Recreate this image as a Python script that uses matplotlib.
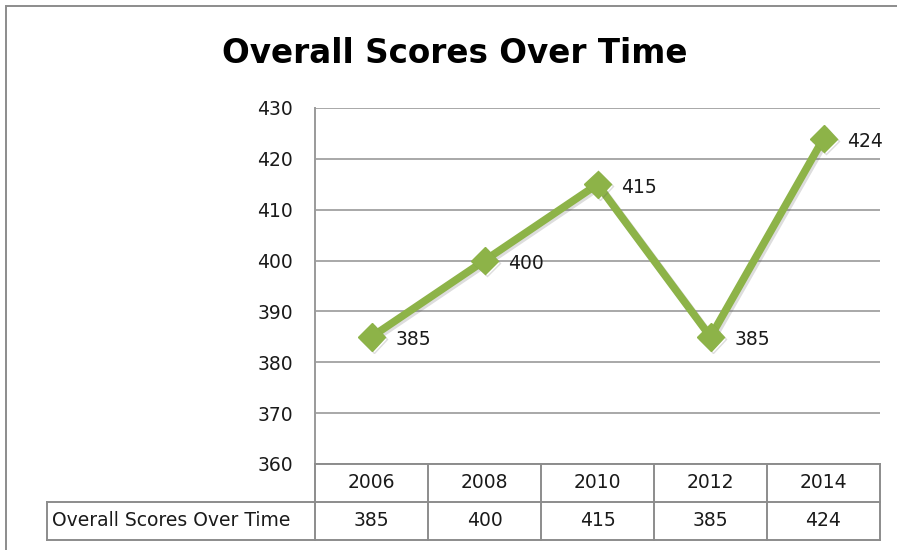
import numpy as np
import matplotlib.pyplot as plt
import matplotlib.patheffects as pe
from matplotlib.patches import Rectangle

plt.rcParams['font.family'] = ['DejaVu Sans']

# data
years = ['2006', '2008', '2010', '2012', '2014']
scores = [385, 400, 415, 385, 424]
series_name = 'Overall Scores Over Time'
y_ticks = [360, 370, 380, 390, 400, 410, 420, 430]

W, H = 897, 550
fig = plt.figure(figsize=(W / 100, H / 100), dpi=100)

def fx(px):
    return px / W

def fy(py):
    return 1 - py / H

grid_c = '#9a9a9a'
line_c = '#8db348'
txt_c = '#1a1a1a'
fs = 13.5

# chart border (cropped on right / bottom like the screenshot)
fig.patches.append(Rectangle((fx(5.5), fy(560)), fx(900), fy(5.5) - fy(560),
                             transform=fig.transFigure, fill=False,
                             edgecolor='#8c8c8c', linewidth=1.4))

fig.text(fx(455), fy(63), 'Overall Scores Over Time', ha='center', va='baseline',
         fontsize=23.5, fontweight='bold', color='black')

# plot area
ax = fig.add_axes([fx(315), fy(464), fx(880) - fx(315), fy(108) - fy(464)])
x = np.arange(len(years))
ax.set_xlim(-0.5, len(years) - 0.5)
ax.set_ylim(360, 430)
ax.set_yticks(y_ticks)
ax.set_xticks([])
ax.tick_params(axis='y', length=0, pad=16, labelsize=fs, labelcolor=txt_c)
for s in ['top', 'right', 'bottom']:
    ax.spines[s].set_visible(False)
ax.spines['left'].set_color(grid_c)
ax.spines['left'].set_linewidth(1.4)
ax.grid(axis='y', color=grid_c, linewidth=1.2)
ax.set_axisbelow(True)

ax.plot(x, scores, color=line_c, linewidth=5.5, marker='D', markersize=14,
        markeredgecolor=line_c, solid_joinstyle='miter',
        path_effects=[pe.SimpleLineShadow(offset=(1.5, -1.5), shadow_color='#555555', alpha=0.2),
                      pe.Normal()], zorder=3)
for xi, v in zip(x, scores):
    ax.annotate(str(v), (xi, v), xytext=(17, -2), textcoords='offset points',
                ha='left', va='center', fontsize=fs, color=txt_c)

# data table below the plot
tax = fig.add_axes([fx(315), fy(540), fx(880) - fx(315), fy(464) - fy(540)])
tax.set_xlim(-0.5, len(years) - 0.5)
tax.set_ylim(2, 0)
tax.axis('off')
label_left = -0.5 - (315 - 47) / 113
tc = '#8c8c8c'
kw = dict(color=tc, linewidth=1.4, clip_on=False)
tax.plot([-0.5, len(years) - 0.5], [0, 0], **kw)
tax.plot([label_left, len(years) - 0.5], [1, 1], **kw)
tax.plot([label_left, len(years) - 0.5], [2, 2], **kw)
tax.plot([label_left, label_left], [1, 2], **kw)
for b in np.arange(-0.5, len(years)):
    tax.plot([b, b], [0, 2], **kw)
for xi, yr, v in zip(x, years, scores):
    tax.text(xi, 0.5, yr, ha='center', va='center', fontsize=fs, color=txt_c)
    tax.text(xi, 1.5, str(v), ha='center', va='center', fontsize=fs, color=txt_c)
tax.text(label_left + 0.04, 1.5, series_name, ha='left', va='center',
         fontsize=fs, color=txt_c)

fig.savefig('out.png', dpi=100)
